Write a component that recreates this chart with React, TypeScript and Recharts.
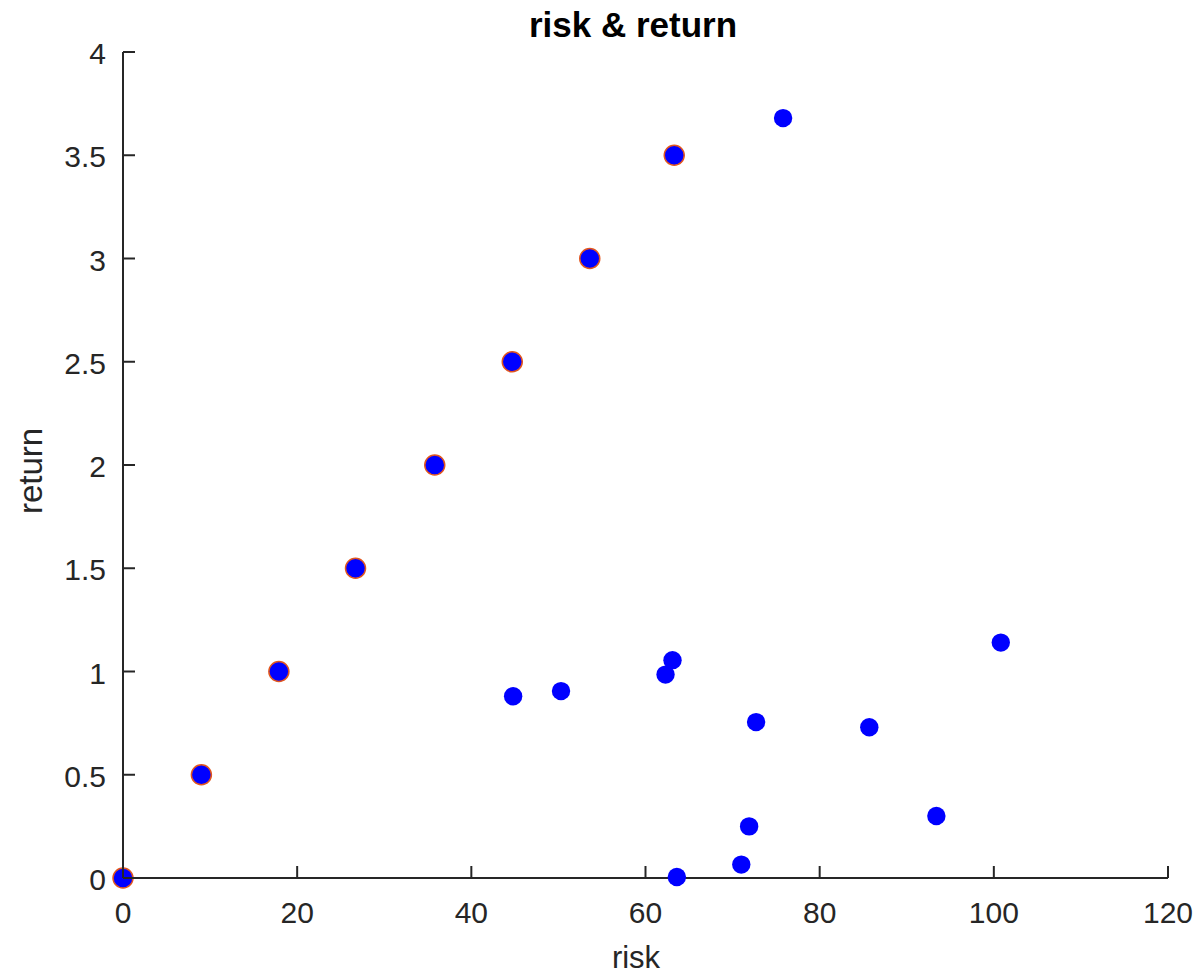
import React from 'react';
import { ScatterChart, Scatter, XAxis, YAxis } from 'recharts';

const frontierRisk = [0, 9.0, 17.9, 26.7, 35.8, 44.7, 53.6, 63.3];
const frontierReturn = [0, 0.5, 1.0, 1.5, 2.0, 2.5, 3.0, 3.5];

const assetRisk = [75.8, 100.8, 63.1, 62.3, 50.3, 44.8, 72.7, 85.7, 93.4, 71.9, 71.0, 63.6];
const assetReturn = [3.68, 1.14, 1.055, 0.985, 0.905, 0.88, 0.755, 0.73, 0.30, 0.25, 0.065, 0.005];

const xTicks = [0, 20, 40, 60, 80, 100, 120];
const yTicks = [0, 0.5, 1, 1.5, 2, 2.5, 3, 3.5, 4];

const frontierData = frontierRisk.map((x, i) => ({ x, y: frontierReturn[i] }));
const assetData = assetRisk.map((x, i) => ({ x, y: assetReturn[i] }));

const FONT = '"Liberation Sans", Arial, Helvetica, sans-serif';
const AXIS = '#262626';

const XTick = (p: any) => {
  const { x, y, payload } = p;
  return (
    <g>
      <line x1={x} y1={y} x2={x} y2={y - 12} stroke={AXIS} strokeWidth={2} />
      <text x={x} y={y + 45} textAnchor="middle" fontFamily={FONT} fontSize={30} fill={AXIS}>
        {String(payload.value)}
      </text>
    </g>
  );
};

const YTick = (p: any) => {
  const { x, y, payload } = p;
  return (
    <g>
      <line x1={x} y1={y} x2={x + 12} y2={y} stroke={AXIS} strokeWidth={2} />
      <text x={x - 17} y={y + 12} textAnchor="end" fontFamily={FONT} fontSize={30} fill={AXIS}>
        {String(payload.value)}
      </text>
    </g>
  );
};

const FrontierDot = (p: any) => (
  <circle cx={p.cx} cy={p.cy} r={10} fill="#0000FF" stroke="#E2561E" strokeWidth={1.5} />
);
const AssetDot = (p: any) => <circle cx={p.cx} cy={p.cy} r={9.2} fill="#0000FF" stroke="none" />;

export default function App() {
  return (
    <div style={{ position: 'absolute', left: 0, top: 0, width: 1196, height: 975, background: '#fff' }}>
      <ScatterChart
        width={1196}
        height={975}
        margin={{ top: 52, right: 28, left: 23, bottom: 17 }}
      >
        <XAxis
          type="number"
          dataKey="x"
          domain={[0, 120]}
          ticks={xTicks}
          interval={0}
          height={80}
          tickSize={0}
          tickMargin={0}
          tickLine={false}
          axisLine={{ stroke: AXIS, strokeWidth: 2 }}
          tick={XTick}
        />
        <YAxis
          type="number"
          dataKey="y"
          domain={[0, 4]}
          ticks={yTicks}
          interval={0}
          width={100}
          tickSize={0}
          tickMargin={0}
          tickLine={false}
          axisLine={{ stroke: AXIS, strokeWidth: 2 }}
          tick={YTick}
        />
        <Scatter data={frontierData} shape={FrontierDot} isAnimationActive={false} />
        <Scatter data={assetData} shape={AssetDot} isAnimationActive={false} />
        <text x={633} y={37} textAnchor="middle" fontFamily={FONT} fontSize={35} fontWeight="bold" fill="#000">
          risk &amp; return
        </text>
        <text x={636} y={968} textAnchor="middle" fontFamily={FONT} fontSize={31} fill={AXIS}>
          risk
        </text>
        <text
          x={42}
          y={471}
          transform="rotate(-90, 42, 471)"
          textAnchor="middle"
          fontFamily={FONT}
          fontSize={33}
          fill={AXIS}
        >
          return
        </text>
      </ScatterChart>
    </div>
  );
}
